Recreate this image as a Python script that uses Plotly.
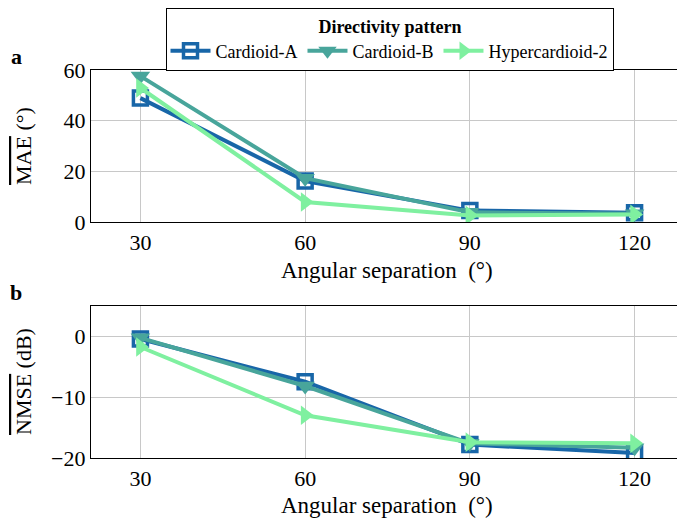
import plotly.graph_objects as go

angles = [30, 60, 90, 120]
series_names = ["Cardioid-A", "Cardioid-B", "Hypercardioid-2"]
mae_a = [48.9, 16.2, 4.5, 3.7]
mae_b = [57.6, 17.3, 3.8, 3.3]
mae_h = [52.9, 7.9, 2.6, 3.0]
nmse_a = [-0.5, -7.5, -17.8, -19.2]
nmse_b = [-0.3, -8.2, -17.6, -18.3]
nmse_h = [-1.8, -13.0, -17.4, -17.6]

colors = ["#1866a8", "#48a59b", "#7ff0a0"]
symbols = ["square-open", "triangle-down", "triangle-right"]
sizes = [14, 17, 17]
FONT = "Liberation Serif"

fig = go.Figure()
for i, (name, ys) in enumerate(zip(series_names, [mae_a, mae_b, mae_h])):
    fig.add_trace(go.Scatter(
        x=angles, y=ys, name=name, mode="lines+markers",
        line=dict(color=colors[i], width=4),
        marker=dict(symbol=symbols[i], size=sizes[i], color=colors[i],
                    line=dict(width=3.5 if i == 0 else 0, color=colors[i])),
        xaxis="x", yaxis="y", legendgroup=name, showlegend=True))
for i, (name, ys) in enumerate(zip(series_names, [nmse_a, nmse_b, nmse_h])):
    fig.add_trace(go.Scatter(
        x=angles, y=ys, name=name, mode="lines+markers",
        line=dict(color=colors[i], width=4),
        marker=dict(symbol=symbols[i], size=sizes[i], color=colors[i],
                    line=dict(width=3.5 if i == 0 else 0, color=colors[i])),
        xaxis="x2", yaxis="y2", legendgroup=name, showlegend=False))

# page body has an 8px default margin; work in window pixels and convert
OFF = 8
W, H = 685 - OFF, 519 - OFF

def px(x):
    return (x - OFF) / W

def py(y):
    return 1 - (y - OFF) / H

xdom = [px(91), px(684)]
ya_dom = [py(222), py(70)]
yb_dom = [py(458), py(305.5)]

axis_common = dict(showgrid=True, gridcolor="#c8c8c8", gridwidth=1,
                   showline=True, linecolor="black", linewidth=1.2, mirror=True,
                   zeroline=False, ticks="", automargin=False,
                   tickfont=dict(family=FONT, size=22, color="black"))

def ann(text, x, y, size, angle=0):
    return dict(text=text, x=px(x), y=py(y), xref="paper", yref="paper",
                showarrow=False, font=dict(family=FONT, size=size, color="black"),
                xanchor="center", yanchor="middle", textangle=angle)

fig.update_layout(
    width=W, height=H,
    margin=dict(l=0, r=0, t=0, b=0),
    paper_bgcolor="white", plot_bgcolor="white",
    font=dict(family=FONT, color="black"),
    xaxis=dict(domain=xdom, range=[21, 129], tickvals=angles, anchor="y", **axis_common),
    yaxis=dict(domain=ya_dom, range=[0, 60], tickvals=[0, 20, 40, 60], anchor="x", **axis_common),
    xaxis2=dict(domain=xdom, range=[21, 129], tickvals=angles, anchor="y2", **axis_common),
    yaxis2=dict(domain=yb_dom, range=[-20, 5], tickvals=[-20, -10, 0], anchor="x2", **axis_common),
    legend=dict(orientation="h", x=px(390), xanchor="center", y=1.0, yanchor="top",
                bordercolor="black", borderwidth=1.2, bgcolor="white",
                title=dict(text="<b>Directivity pattern</b>", side="top center",
                           font=dict(family=FONT, size=18)),
                font=dict(family=FONT, size=18), itemwidth=40,
                tracegroupgap=0),
    annotations=[
        ann("<b>a</b>", 16, 57, 22),
        ann("<b>b</b>", 16, 292, 22),
        ann("Angular separation  (°)", 387, 270, 23),
        ann("Angular separation  (°)", 387, 505, 23),
        ann('<span style="text-decoration:overline">MAE</span> (°)', 23, 146, 22, -90),
        ann('<span style="text-decoration:overline">NMSE</span> (dB)', 23, 382, 22, -90),
    ],
)

fig.write_html("out.html")
